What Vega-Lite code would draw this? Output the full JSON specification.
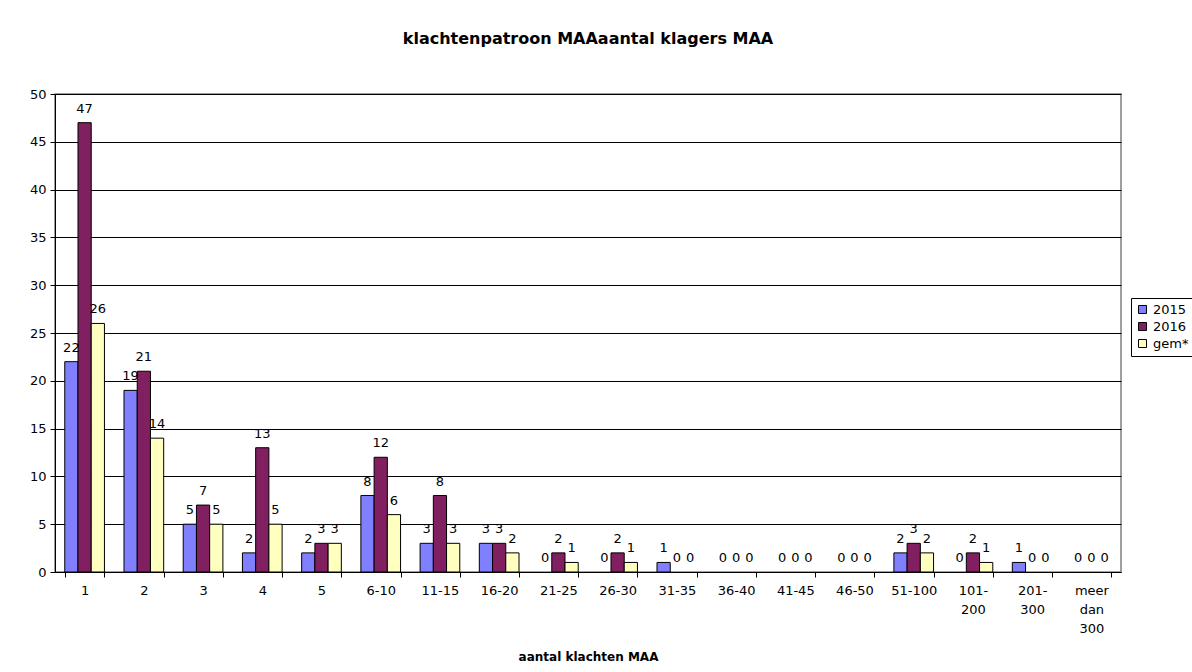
{
  "$schema": "https://vega.github.io/schema/vega-lite/v6.json",
  "width": 1066,
  "height": 478,
  "autosize": {"type": "none"},
  "padding": {"left": 55, "top": 94, "right": 71, "bottom": 100},
  "background": "white",
  "config": {
    "font": "DejaVu Sans",
    "view": {"stroke": "#808080", "strokeWidth": 1.5},
    "axis": {"labelFont": "DejaVu Sans", "titleFont": "DejaVu Sans", "labelColor": "black", "titleColor": "black", "domainColor": "black", "tickColor": "black"}
  },
  "title": {
    "text": "klachtenpatroon MAAaantal klagers MAA",
    "font": "DejaVu Sans",
    "fontSize": 16,
    "fontWeight": "bold",
    "anchor": "middle",
    "offset": 41,
    "color": "black"
  },
  "data": {
    "values": [
      {"cat": "1", "serie": "2015", "value": 22}, {"cat": "1", "serie": "2016", "value": 47}, {"cat": "1", "serie": "gem*", "value": 26},
      {"cat": "2", "serie": "2015", "value": 19}, {"cat": "2", "serie": "2016", "value": 21}, {"cat": "2", "serie": "gem*", "value": 14},
      {"cat": "3", "serie": "2015", "value": 5}, {"cat": "3", "serie": "2016", "value": 7}, {"cat": "3", "serie": "gem*", "value": 5},
      {"cat": "4", "serie": "2015", "value": 2}, {"cat": "4", "serie": "2016", "value": 13}, {"cat": "4", "serie": "gem*", "value": 5},
      {"cat": "5", "serie": "2015", "value": 2}, {"cat": "5", "serie": "2016", "value": 3}, {"cat": "5", "serie": "gem*", "value": 3},
      {"cat": "6-10", "serie": "2015", "value": 8}, {"cat": "6-10", "serie": "2016", "value": 12}, {"cat": "6-10", "serie": "gem*", "value": 6},
      {"cat": "11-15", "serie": "2015", "value": 3}, {"cat": "11-15", "serie": "2016", "value": 8}, {"cat": "11-15", "serie": "gem*", "value": 3},
      {"cat": "16-20", "serie": "2015", "value": 3}, {"cat": "16-20", "serie": "2016", "value": 3}, {"cat": "16-20", "serie": "gem*", "value": 2},
      {"cat": "21-25", "serie": "2015", "value": 0}, {"cat": "21-25", "serie": "2016", "value": 2}, {"cat": "21-25", "serie": "gem*", "value": 1},
      {"cat": "26-30", "serie": "2015", "value": 0}, {"cat": "26-30", "serie": "2016", "value": 2}, {"cat": "26-30", "serie": "gem*", "value": 1},
      {"cat": "31-35", "serie": "2015", "value": 1}, {"cat": "31-35", "serie": "2016", "value": 0}, {"cat": "31-35", "serie": "gem*", "value": 0},
      {"cat": "36-40", "serie": "2015", "value": 0}, {"cat": "36-40", "serie": "2016", "value": 0}, {"cat": "36-40", "serie": "gem*", "value": 0},
      {"cat": "41-45", "serie": "2015", "value": 0}, {"cat": "41-45", "serie": "2016", "value": 0}, {"cat": "41-45", "serie": "gem*", "value": 0},
      {"cat": "46-50", "serie": "2015", "value": 0}, {"cat": "46-50", "serie": "2016", "value": 0}, {"cat": "46-50", "serie": "gem*", "value": 0},
      {"cat": "51-100", "serie": "2015", "value": 2}, {"cat": "51-100", "serie": "2016", "value": 3}, {"cat": "51-100", "serie": "gem*", "value": 2},
      {"cat": "101-200", "serie": "2015", "value": 0}, {"cat": "101-200", "serie": "2016", "value": 2}, {"cat": "101-200", "serie": "gem*", "value": 1},
      {"cat": "201-300", "serie": "2015", "value": 1}, {"cat": "201-300", "serie": "2016", "value": 0}, {"cat": "201-300", "serie": "gem*", "value": 0},
      {"cat": "meer dan 300", "serie": "2015", "value": 0}, {"cat": "meer dan 300", "serie": "2016", "value": 0}, {"cat": "meer dan 300", "serie": "gem*", "value": 0}
    ]
  },
  "encoding": {
    "x": {
      "field": "cat",
      "type": "nominal",
      "sort": null,
      "scale": {"paddingInner": 0.33, "paddingOuter": 0.165},
      "axis": {
        "title": "aantal klachten MAA",
        "titleFontSize": 12,
        "titleFontWeight": "bold",
        "titleY": 84,
        "titleBaseline": "middle",
        "labelAngle": 0,
        "labelFontSize": 13,
        "labelPadding": 7,
        "labelLineHeight": 19,
        "labelExpr": "datum.label === 'meer dan 300' ? ['meer','dan','300'] : datum.label === '101-200' ? ['101-','200'] : datum.label === '201-300' ? ['201-','300'] : datum.label",
        "tickBand": "extent",
        "tickSize": 5,
        "domainColor": "black"
      }
    },
    "xOffset": {"field": "serie", "type": "nominal", "sort": ["2015", "2016", "gem*"]},
    "y": {
      "field": "value",
      "type": "quantitative",
      "scale": {"domain": [0, 50]},
      "axis": {
        "title": null,
        "values": [0, 5, 10, 15, 20, 25, 30, 35, 40, 45, 50],
        "labelFontSize": 13,
        "labelPadding": 4,
        "tickSize": 5,
        "gridColor": "black",
        "gridOpacity": 1,
        "grid": true
      }
    }
  },
  "layer": [
    {
      "mark": {"type": "bar", "stroke": "black", "strokeWidth": 1},
      "encoding": {
        "strokeOpacity": {"condition": {"test": "datum.value === 0", "value": 0}, "value": 1},
        "color": {
          "field": "serie",
          "type": "nominal",
          "scale": {"domain": ["2015", "2016", "gem*"], "range": ["#8080ff", "#802060", "#ffffc0"]},
          "legend": {
            "title": null,
            "orient": "none",
            "legendX": 1076,
            "legendY": 204,
            "symbolType": "square",
            "symbolSize": 64,
            "symbolStrokeColor": "black",
            "symbolStrokeWidth": 1,
            "labelFontSize": 13,
            "labelFont": "DejaVu Sans",
            "labelColor": "black",
            "labelOffset": 4,
            "rowPadding": 3,
            "strokeColor": "black",
            "padding": 5,
            "fillColor": "white"
          }
        }
      }
    },
    {
      "mark": {"type": "text", "dy": -10, "baseline": "alphabetic", "fontSize": 13, "font": "DejaVu Sans", "color": "black"},
      "encoding": {"text": {"field": "value", "type": "quantitative"}}
    }
  ]
}
